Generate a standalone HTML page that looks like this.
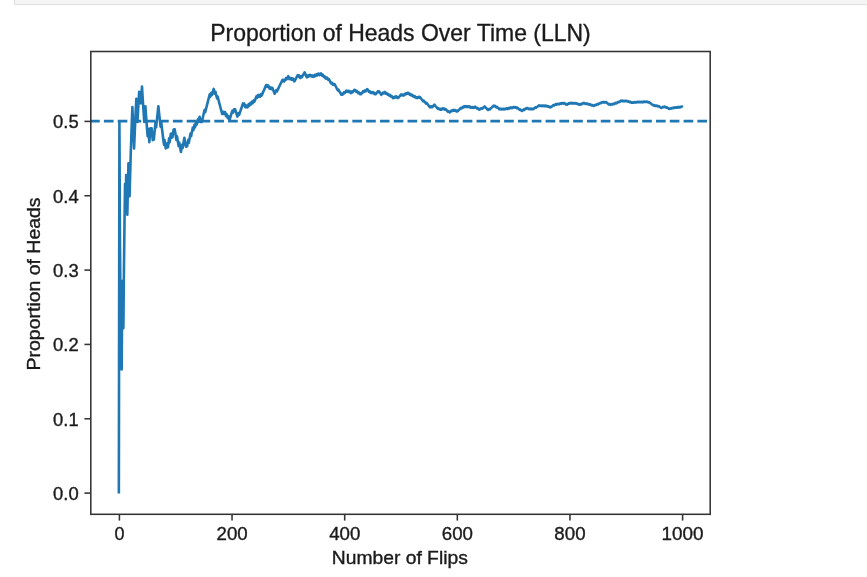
<!DOCTYPE html>
<html><head><meta charset="utf-8">
<style>
html,body{margin:0;padding:0;background:#fff;width:867px;height:577px;overflow:hidden}
.bar{position:absolute;left:14px;top:-2px;width:860px;height:5px;background:#f5f5f5;border:1px solid #dfdfdf}
svg{position:absolute;left:0;top:0;will-change:transform}
text{font-family:"Liberation Sans",sans-serif;fill:#1a1a1a;stroke:#1a1a1a;stroke-width:0.35px}
</style></head><body>
<div class="bar"></div>
<svg width="867" height="577" viewBox="0 0 867 577">
<!-- data line -->
<g id="ln"><path d="M118.85 493.40 L119.41 121.90 L119.98 245.73 L120.54 307.65 L121.11 344.80 L121.67 369.57 L122.24 281.11 L122.80 307.65 L123.37 328.29 L123.93 270.50 L124.49 223.22 L125.06 183.82 L125.62 207.63 L126.19 174.97 L126.75 196.20 L127.32 214.77 L127.88 187.46 L128.45 163.18 L129.01 180.56 L129.58 196.20 L130.14 174.97 L130.70 155.67 L131.27 138.05 L131.83 121.90 L132.40 107.04 L132.96 121.90 L133.53 135.66 L134.09 148.44 L134.66 134.71 L135.22 121.90 L135.78 109.92 L136.35 98.68 L136.91 110.64 L137.48 121.90 L138.04 111.29 L138.61 101.26 L139.17 91.78 L139.74 102.35 L140.30 93.32 L140.87 103.32 L141.43 94.72 L141.99 86.52 L142.56 95.98 L143.12 105.01 L143.69 113.64 L144.25 121.90 L144.82 114.00 L145.38 106.42 L145.95 114.32 L146.51 121.90 L147.07 129.18 L147.64 136.19 L148.20 128.91 L148.77 135.66 L149.33 142.16 L149.90 135.17 L150.46 128.42 L151.03 134.71 L151.59 128.20 L152.16 134.28 L152.72 140.17 L153.28 133.88 L153.85 139.59 L154.41 133.51 L154.98 127.62 L155.54 121.90 L156.11 127.44 L156.67 121.90 L157.24 116.52 L157.80 111.29 L158.37 106.20 L158.93 111.58 L159.49 116.81 L160.06 121.90 L160.62 126.85 L161.19 121.90 L161.75 126.72 L162.32 131.43 L162.88 136.01 L163.45 140.47 L164.01 144.83 L164.57 140.02 L165.14 144.28 L165.70 148.44 L166.27 143.75 L166.83 147.82 L167.40 143.25 L167.96 147.23 L168.53 142.77 L169.09 138.41 L169.66 142.31 L170.22 138.05 L170.78 133.88 L171.35 137.71 L171.91 133.63 L172.48 137.38 L173.04 133.39 L173.61 129.48 L174.17 133.16 L174.74 129.33 L175.30 132.93 L175.86 136.47 L176.43 139.93 L176.99 136.19 L177.56 139.59 L178.12 142.93 L178.69 146.20 L179.25 142.54 L179.82 145.76 L180.38 148.92 L180.94 152.02 L181.51 148.44 L182.07 144.91 L182.64 147.97 L183.20 144.51 L183.77 141.12 L184.33 137.78 L184.90 140.79 L185.46 143.75 L186.03 146.67 L186.59 143.39 L187.15 146.26 L187.72 143.04 L188.28 139.88 L188.85 142.70 L189.41 139.59 L189.98 136.53 L190.54 133.51 L191.11 136.30 L191.67 133.33 L192.24 130.41 L192.80 127.53 L193.36 130.28 L193.93 127.44 L194.49 124.65 L195.06 127.36 L195.62 124.61 L196.19 121.90 L196.75 124.57 L197.32 121.90 L197.88 119.27 L198.44 121.90 L199.01 119.30 L199.57 116.74 L200.14 119.34 L200.70 121.90 L201.27 119.37 L201.83 121.90 L202.40 119.41 L202.96 116.95 L203.52 114.52 L204.09 112.12 L204.65 109.76 L205.22 112.25 L205.78 109.92 L206.35 107.61 L206.91 105.34 L207.48 103.09 L208.04 100.87 L208.61 98.68 L209.17 96.52 L209.73 94.38 L210.30 96.83 L210.86 94.72 L211.43 92.63 L211.99 95.04 L212.56 92.98 L213.12 90.94 L213.69 88.93 L214.25 91.31 L214.81 93.66 L215.38 91.66 L215.94 93.98 L216.51 96.28 L217.07 98.55 L217.64 96.57 L218.20 98.81 L218.77 101.03 L219.33 103.22 L219.90 105.39 L220.46 107.53 L221.02 109.65 L221.59 111.75 L222.15 113.82 L222.72 111.86 L223.28 113.91 L223.85 111.97 L224.41 114.00 L224.98 112.07 L225.54 114.08 L226.10 116.06 L226.67 114.16 L227.23 116.13 L227.80 118.07 L228.36 116.18 L228.93 118.11 L229.49 120.01 L230.06 118.15 L230.62 116.30 L231.19 114.47 L231.75 112.66 L232.31 110.87 L232.88 112.75 L233.44 110.97 L234.01 109.21 L234.57 111.08 L235.14 109.34 L235.70 111.18 L236.27 113.01 L236.83 114.82 L237.39 116.62 L237.96 114.89 L238.52 113.18 L239.09 114.96 L239.65 113.26 L240.22 111.58 L240.78 109.92 L241.35 108.27 L241.91 106.63 L242.48 105.01 L243.04 103.41 L243.60 105.17 L244.17 103.57 L244.73 105.32 L245.30 107.04 L245.86 105.46 L246.43 107.17 L246.99 105.61 L247.56 107.30 L248.12 105.75 L248.69 104.21 L249.25 105.89 L249.81 104.36 L250.38 102.85 L250.94 104.51 L251.51 103.01 L252.07 101.52 L252.64 103.17 L253.20 101.69 L253.77 100.23 L254.33 101.86 L254.89 100.41 L255.46 98.97 L256.02 97.54 L256.59 96.12 L257.15 97.74 L257.72 96.33 L258.28 94.94 L258.85 96.54 L259.41 95.15 L259.98 96.74 L260.54 95.36 L261.10 94.00 L261.67 95.57 L262.23 94.22 L262.80 92.88 L263.36 91.54 L263.93 90.22 L264.49 88.91 L265.06 87.61 L265.62 86.32 L266.18 85.03 L266.75 86.59 L267.31 85.31 L267.88 86.85 L268.44 85.59 L269.01 87.12 L269.57 88.63 L270.14 87.37 L270.70 88.88 L271.26 87.63 L271.83 89.12 L272.39 87.88 L272.96 89.36 L273.52 90.83 L274.09 92.29 L274.65 93.74 L275.22 92.50 L275.78 91.27 L276.35 90.06 L276.91 91.49 L277.47 90.28 L278.04 89.08 L278.60 87.89 L279.17 86.71 L279.73 85.53 L280.30 84.36 L280.86 83.20 L281.43 82.05 L281.99 80.91 L282.56 79.77 L283.12 81.19 L283.68 80.06 L284.25 81.46 L284.81 80.34 L285.38 79.23 L285.94 78.12 L286.51 79.51 L287.07 78.41 L287.64 77.32 L288.20 76.23 L288.76 77.62 L289.33 78.99 L289.89 77.91 L290.46 79.27 L291.02 78.19 L291.59 79.55 L292.15 78.48 L292.72 79.82 L293.28 78.76 L293.85 80.09 L294.41 81.42 L294.97 80.36 L295.54 79.31 L296.10 78.26 L296.67 77.23 L297.23 76.19 L297.80 75.17 L298.36 76.48 L298.93 75.46 L299.49 76.76 L300.05 78.06 L300.62 77.04 L301.18 76.04 L301.75 77.32 L302.31 76.32 L302.88 75.32 L303.44 74.33 L304.01 73.35 L304.57 72.37 L305.13 73.64 L305.70 74.90 L306.26 76.16 L306.83 77.41 L307.39 76.43 L307.96 75.46 L308.52 76.70 L309.09 75.74 L309.65 74.78 L310.22 76.01 L310.78 75.05 L311.34 76.28 L311.91 75.33 L312.47 76.54 L313.04 75.60 L313.60 76.80 L314.17 75.86 L314.73 74.93 L315.30 76.13 L315.86 75.20 L316.42 74.27 L316.99 75.46 L317.55 74.54 L318.12 73.63 L318.68 74.81 L319.25 73.90 L319.81 75.07 L320.38 74.17 L320.94 73.26 L321.51 74.43 L322.07 75.59 L322.63 74.69 L323.20 75.85 L323.76 76.99 L324.33 76.10 L324.89 77.24 L325.46 78.37 L326.02 77.48 L326.59 78.61 L327.15 77.72 L327.72 78.84 L328.28 79.96 L328.84 79.07 L329.41 80.18 L329.97 81.28 L330.54 82.38 L331.10 83.47 L331.67 82.59 L332.23 83.67 L332.80 84.75 L333.36 83.87 L333.92 84.94 L334.49 84.07 L335.05 85.14 L335.62 86.20 L336.18 87.25 L336.75 88.30 L337.31 89.35 L337.88 90.38 L338.44 89.51 L339.00 90.55 L339.57 91.57 L340.13 92.60 L340.70 93.61 L341.26 94.63 L341.83 93.76 L342.39 94.76 L342.96 93.90 L343.52 93.04 L344.09 92.18 L344.65 93.18 L345.21 92.33 L345.78 91.48 L346.34 90.64 L346.91 91.63 L347.47 90.79 L348.04 91.78 L348.60 90.94 L349.17 91.93 L349.73 91.09 L350.29 92.07 L350.86 93.05 L351.42 92.22 L351.99 91.39 L352.55 92.36 L353.12 91.54 L353.68 90.72 L354.25 89.90 L354.81 90.87 L355.38 90.06 L355.94 91.02 L356.50 91.97 L357.07 91.16 L357.63 92.11 L358.20 93.05 L358.76 92.25 L359.33 93.19 L359.89 94.12 L360.46 93.32 L361.02 94.25 L361.59 93.46 L362.15 92.66 L362.71 91.87 L363.28 91.08 L363.84 92.01 L364.41 91.23 L364.97 90.45 L365.54 91.37 L366.10 90.59 L366.67 89.82 L367.23 89.05 L367.79 89.96 L368.36 90.87 L368.92 91.78 L369.49 91.01 L370.05 91.91 L370.62 92.81 L371.18 92.05 L371.75 92.94 L372.31 92.18 L372.88 93.07 L373.44 92.31 L374.00 93.20 L374.57 94.08 L375.13 93.32 L375.70 94.20 L376.26 93.45 L376.83 92.70 L377.39 91.95 L377.96 91.21 L378.52 92.08 L379.08 91.34 L379.65 92.21 L380.21 93.08 L380.78 93.94 L381.34 94.79 L381.91 94.06 L382.47 93.32 L383.04 92.59 L383.60 93.44 L384.16 92.72 L384.73 91.99 L385.29 92.84 L385.86 93.68 L386.42 92.96 L386.99 93.80 L387.55 94.64 L388.12 93.92 L388.68 94.75 L389.25 95.59 L389.81 94.87 L390.37 95.69 L390.94 96.52 L391.50 95.80 L392.07 96.62 L392.63 97.44 L393.20 98.25 L393.76 97.54 L394.33 96.83 L394.89 97.64 L395.46 96.93 L396.02 96.23 L396.58 97.03 L397.15 97.84 L397.71 97.13 L398.28 97.93 L398.84 97.23 L399.41 96.54 L399.97 95.84 L400.54 95.15 L401.10 94.46 L401.66 95.26 L402.23 94.57 L402.79 95.36 L403.36 94.68 L403.92 95.47 L404.49 94.79 L405.05 94.11 L405.62 93.44 L406.18 94.22 L406.75 93.55 L407.31 92.88 L407.87 93.66 L408.44 92.99 L409.00 93.77 L409.57 94.54 L410.13 93.88 L410.70 94.65 L411.26 95.42 L411.83 94.75 L412.39 95.52 L412.95 96.28 L413.52 95.62 L414.08 96.38 L414.65 97.13 L415.21 96.47 L415.78 97.23 L416.34 97.98 L416.91 97.32 L417.47 98.07 L418.03 97.41 L418.60 96.76 L419.16 97.51 L419.73 96.86 L420.29 97.60 L420.86 98.33 L421.42 99.07 L421.99 99.80 L422.55 100.53 L423.12 101.26 L423.68 100.61 L424.24 101.34 L424.81 102.06 L425.37 102.78 L425.94 103.50 L426.50 102.85 L427.07 103.56 L427.63 104.27 L428.20 104.98 L428.76 105.69 L429.33 106.39 L429.89 107.09 L430.45 106.45 L431.02 107.15 L431.58 106.50 L432.15 107.20 L432.71 106.56 L433.28 105.92 L433.84 105.29 L434.41 104.65 L434.97 105.34 L435.53 106.04 L436.10 106.72 L436.66 107.41 L437.23 108.09 L437.79 108.77 L438.36 108.14 L438.92 108.82 L439.49 109.49 L440.05 108.86 L440.62 109.54 L441.18 108.91 L441.74 109.58 L442.31 108.96 L442.87 108.33 L443.44 109.00 L444.00 108.38 L444.57 109.05 L445.13 109.71 L445.70 109.09 L446.26 109.75 L446.82 110.41 L447.39 111.07 L447.95 111.72 L448.52 111.10 L449.08 111.76 L449.65 112.41 L450.21 111.79 L450.78 111.18 L451.34 110.57 L451.90 111.21 L452.47 110.60 L453.03 110.00 L453.60 110.64 L454.16 110.04 L454.73 110.68 L455.29 110.08 L455.86 110.72 L456.42 111.36 L456.99 110.75 L457.55 111.39 L458.11 110.79 L458.68 110.19 L459.24 109.60 L459.81 109.00 L460.37 108.41 L460.94 107.82 L461.50 108.46 L462.07 107.87 L462.63 107.28 L463.20 106.70 L463.76 107.33 L464.32 106.75 L464.89 106.17 L465.45 106.80 L466.02 106.22 L466.58 106.85 L467.15 106.27 L467.71 106.90 L468.28 106.32 L468.84 106.94 L469.40 106.37 L469.97 106.99 L470.53 107.61 L471.10 107.04 L471.66 107.66 L472.23 107.09 L472.79 107.70 L473.36 107.13 L473.92 107.75 L474.49 107.18 L475.05 106.62 L475.61 107.23 L476.18 107.84 L476.74 108.44 L477.31 107.88 L477.87 108.49 L478.44 109.09 L479.00 109.69 L479.57 109.13 L480.13 108.57 L480.69 109.17 L481.26 108.61 L481.82 108.06 L482.39 108.65 L482.95 108.10 L483.52 107.55 L484.08 106.99 L484.65 106.44 L485.21 107.04 L485.77 107.63 L486.34 108.23 L486.90 108.82 L487.47 109.40 L488.03 109.99 L488.60 109.44 L489.16 108.89 L489.73 109.48 L490.29 108.93 L490.86 108.39 L491.42 107.85 L491.98 107.31 L492.55 106.77 L493.11 106.23 L493.68 105.70 L494.24 106.28 L494.81 105.75 L495.37 106.33 L495.94 106.91 L496.50 107.48 L497.06 106.95 L497.63 107.53 L498.19 108.10 L498.76 108.67 L499.32 109.24 L499.89 108.71 L500.45 109.28 L501.02 108.75 L501.58 109.32 L502.15 108.79 L502.71 109.35 L503.27 108.83 L503.84 109.39 L504.40 108.86 L504.97 109.43 L505.53 108.90 L506.10 108.38 L506.66 108.94 L507.23 108.42 L507.79 108.98 L508.36 108.46 L508.92 107.94 L509.48 108.50 L510.05 107.98 L510.61 107.47 L511.18 108.02 L511.74 107.51 L512.31 108.06 L512.87 107.55 L513.44 107.04 L514.00 107.59 L514.56 107.08 L515.13 107.63 L515.69 107.12 L516.26 107.67 L516.82 108.22 L517.39 107.71 L517.95 108.26 L518.52 108.80 L519.08 109.34 L519.64 109.88 L520.21 109.38 L520.77 109.92 L521.34 110.45 L521.90 110.99 L522.47 110.49 L523.03 109.98 L523.60 109.48 L524.16 110.02 L524.73 109.52 L525.29 109.02 L525.85 108.52 L526.42 108.03 L526.98 108.56 L527.55 108.06 L528.11 108.60 L528.68 109.12 L529.24 108.63 L529.81 109.16 L530.37 108.67 L530.93 109.19 L531.50 108.70 L532.06 109.23 L532.63 108.74 L533.19 109.26 L533.76 108.78 L534.32 108.29 L534.89 107.81 L535.45 107.32 L536.02 107.84 L536.58 107.36 L537.14 106.88 L537.71 106.40 L538.27 105.92 L538.84 105.44 L539.40 105.96 L539.97 105.49 L540.53 106.01 L541.10 105.53 L541.66 106.05 L542.23 105.58 L542.79 106.09 L543.35 105.62 L543.92 106.13 L544.48 105.66 L545.05 106.18 L545.61 105.71 L546.18 106.22 L546.74 105.75 L547.31 106.26 L547.87 106.77 L548.43 106.30 L549.00 106.81 L549.56 107.31 L550.13 106.85 L550.69 107.35 L551.26 106.89 L551.82 106.42 L552.39 105.96 L552.95 105.50 L553.51 105.04 L554.08 105.54 L554.64 105.08 L555.21 104.62 L555.77 104.16 L556.34 104.67 L556.90 104.21 L557.47 103.75 L558.03 104.25 L558.60 103.80 L559.16 104.30 L559.72 103.85 L560.29 103.40 L560.85 103.89 L561.42 103.44 L561.98 102.99 L562.55 103.49 L563.11 103.04 L563.68 103.54 L564.24 103.09 L564.80 103.58 L565.37 104.08 L565.93 104.57 L566.50 104.12 L567.06 104.61 L567.63 104.17 L568.19 103.72 L568.76 103.28 L569.32 103.77 L569.89 103.32 L570.45 102.88 L571.01 103.37 L571.58 102.93 L572.14 103.42 L572.71 102.98 L573.27 103.46 L573.84 103.03 L574.40 103.51 L574.97 103.07 L575.53 103.55 L576.10 103.12 L576.66 103.60 L577.22 104.08 L577.79 103.64 L578.35 104.12 L578.92 104.60 L579.48 104.17 L580.05 104.64 L580.61 104.21 L581.18 103.78 L581.74 104.25 L582.30 103.82 L582.87 103.39 L583.43 102.96 L584.00 103.44 L584.56 103.01 L585.13 103.48 L585.69 103.95 L586.26 103.53 L586.82 104.00 L587.38 103.57 L587.95 104.04 L588.51 104.51 L589.08 104.08 L589.64 104.55 L590.21 105.01 L590.77 104.59 L591.34 105.05 L591.90 105.52 L592.47 105.09 L593.03 105.56 L593.59 106.02 L594.16 105.59 L594.72 105.17 L595.29 104.75 L595.85 105.21 L596.42 104.79 L596.98 104.38 L597.55 103.96 L598.11 104.42 L598.67 104.00 L599.24 103.59 L599.80 103.17 L600.37 102.76 L600.93 103.22 L601.50 102.80 L602.06 102.39 L602.63 101.98 L603.19 102.44 L603.76 102.03 L604.32 102.48 L604.88 102.08 L605.45 102.53 L606.01 102.12 L606.58 102.57 L607.14 103.02 L607.71 103.47 L608.27 103.92 L608.84 104.37 L609.40 103.97 L609.97 104.41 L610.53 104.86 L611.09 104.45 L611.66 104.05 L612.22 104.49 L612.79 104.09 L613.35 103.69 L613.92 104.13 L614.48 103.73 L615.05 103.32 L615.61 102.92 L616.17 103.37 L616.74 102.97 L617.30 102.57 L617.87 102.17 L618.43 101.77 L619.00 102.22 L619.56 101.82 L620.13 101.42 L620.69 101.03 L621.25 100.64 L621.82 101.08 L622.38 100.68 L622.95 101.12 L623.51 100.73 L624.08 101.17 L624.64 100.78 L625.21 101.22 L625.77 100.82 L626.34 101.26 L626.90 100.87 L627.46 101.31 L628.03 101.74 L628.59 101.35 L629.16 101.79 L629.72 102.22 L630.29 101.83 L630.85 102.26 L631.42 102.69 L631.98 102.30 L632.55 102.73 L633.11 102.35 L633.67 102.78 L634.24 102.39 L634.80 102.01 L635.37 102.43 L635.93 102.05 L636.50 102.48 L637.06 102.09 L637.63 101.71 L638.19 102.14 L638.75 101.75 L639.32 102.18 L639.88 101.80 L640.45 102.22 L641.01 101.84 L641.58 102.26 L642.14 101.88 L642.71 102.31 L643.27 101.93 L643.84 101.55 L644.40 101.97 L644.96 101.59 L645.53 102.01 L646.09 101.64 L646.66 102.05 L647.22 101.68 L647.79 102.10 L648.35 102.51 L648.92 102.14 L649.48 102.56 L650.04 102.97 L650.61 103.38 L651.17 103.80 L651.74 104.21 L652.30 104.62 L652.87 105.03 L653.43 105.44 L654.00 105.07 L654.56 105.48 L655.12 105.88 L655.69 105.51 L656.25 105.92 L656.82 105.54 L657.38 105.95 L657.95 106.36 L658.51 105.98 L659.08 106.39 L659.64 106.79 L660.21 107.19 L660.77 107.60 L661.33 108.00 L661.90 107.63 L662.46 107.26 L663.03 106.89 L663.59 107.29 L664.16 106.92 L664.72 106.55 L665.29 106.95 L665.85 107.35 L666.42 107.74 L666.98 107.38 L667.54 107.77 L668.11 108.17 L668.67 108.56 L669.24 108.96 L669.80 108.59 L670.37 108.23 L670.93 108.62 L671.50 108.25 L672.06 107.89 L672.62 108.28 L673.19 107.92 L673.75 107.55 L674.32 107.95 L674.88 107.58 L675.45 107.22 L676.01 107.61 L676.58 107.25 L677.14 107.64 L677.71 107.28 L678.27 106.92 L678.83 107.31 L679.40 106.95 L679.96 107.34 L680.53 106.98 L681.09 106.62 L681.66 107.01 L682.22 106.65 L682.79 107.04" fill="none" stroke="#1f77b4" stroke-width="2.6" stroke-linejoin="round" stroke-linecap="butt"/></g>
<!-- dashed 0.5 -->
<line x1="90.1" y1="121.15" x2="710.2" y2="121.15" stroke="#1f77b4" stroke-width="2.6" stroke-dasharray="9.635 4.167"/>
<!-- frame -->
<rect x="90.8" y="51.5" width="619.4" height="462.8" fill="none" stroke="#333" stroke-width="1.55"/>
<!-- y ticks -->
<g stroke="#333" stroke-width="1.55">
<line x1="84.4" y1="493.1" x2="90.8" y2="493.1"/>
<line x1="84.4" y1="418.76" x2="90.8" y2="418.76"/>
<line x1="84.4" y1="344.42" x2="90.8" y2="344.42"/>
<line x1="84.4" y1="270.08" x2="90.8" y2="270.08"/>
<line x1="84.4" y1="195.74" x2="90.8" y2="195.74"/>
<line x1="84.4" y1="121.4" x2="90.8" y2="121.4"/>
</g>
<g stroke="#333" stroke-width="1.55">
<line x1="119.4" y1="514.3" x2="119.4" y2="520.6"/>
<line x1="232.04" y1="514.3" x2="232.04" y2="520.6"/>
<line x1="344.68" y1="514.3" x2="344.68" y2="520.6"/>
<line x1="457.32" y1="514.3" x2="457.32" y2="520.6"/>
<line x1="569.96" y1="514.3" x2="569.96" y2="520.6"/>
<line x1="682.6" y1="514.3" x2="682.6" y2="520.6"/>
</g>
<!-- texts -->
<text x="400.5" y="40.7" font-size="24" text-anchor="middle" textLength="380.5" lengthAdjust="spacingAndGlyphs">Proportion of Heads Over Time (LLN)</text>
<text x="399.8" y="563.5" font-size="17.9" text-anchor="middle" textLength="136" lengthAdjust="spacingAndGlyphs">Number of Flips</text>
<text transform="translate(39.8,283.9) rotate(-90)" x="0" y="0" font-size="17.9" text-anchor="middle" textLength="173" lengthAdjust="spacingAndGlyphs">Proportion of Heads</text>
<g font-size="18" text-anchor="end">
<text x="78.7" y="500.0" textLength="25.6" lengthAdjust="spacingAndGlyphs">0.0</text>
<text x="78.7" y="425.66" textLength="25.6" lengthAdjust="spacingAndGlyphs">0.1</text>
<text x="78.7" y="351.32" textLength="25.6" lengthAdjust="spacingAndGlyphs">0.2</text>
<text x="78.7" y="276.98" textLength="25.6" lengthAdjust="spacingAndGlyphs">0.3</text>
<text x="78.7" y="202.64" textLength="25.6" lengthAdjust="spacingAndGlyphs">0.4</text>
<text x="78.7" y="128.3" textLength="25.6" lengthAdjust="spacingAndGlyphs">0.5</text>
</g>
<g font-size="18" text-anchor="middle">
<text x="119.55" y="539.8" textLength="11">0</text>
<text x="232.15" y="539.8" textLength="31.2" lengthAdjust="spacingAndGlyphs">200</text>
<text x="344.75" y="539.8" textLength="31.2" lengthAdjust="spacingAndGlyphs">400</text>
<text x="457.35" y="539.8" textLength="31.2" lengthAdjust="spacingAndGlyphs">600</text>
<text x="569.95" y="539.8" textLength="31.2" lengthAdjust="spacingAndGlyphs">800</text>
<text x="682.55" y="539.8" textLength="42" lengthAdjust="spacingAndGlyphs">1000</text>
</g>
</svg>
</body></html>
